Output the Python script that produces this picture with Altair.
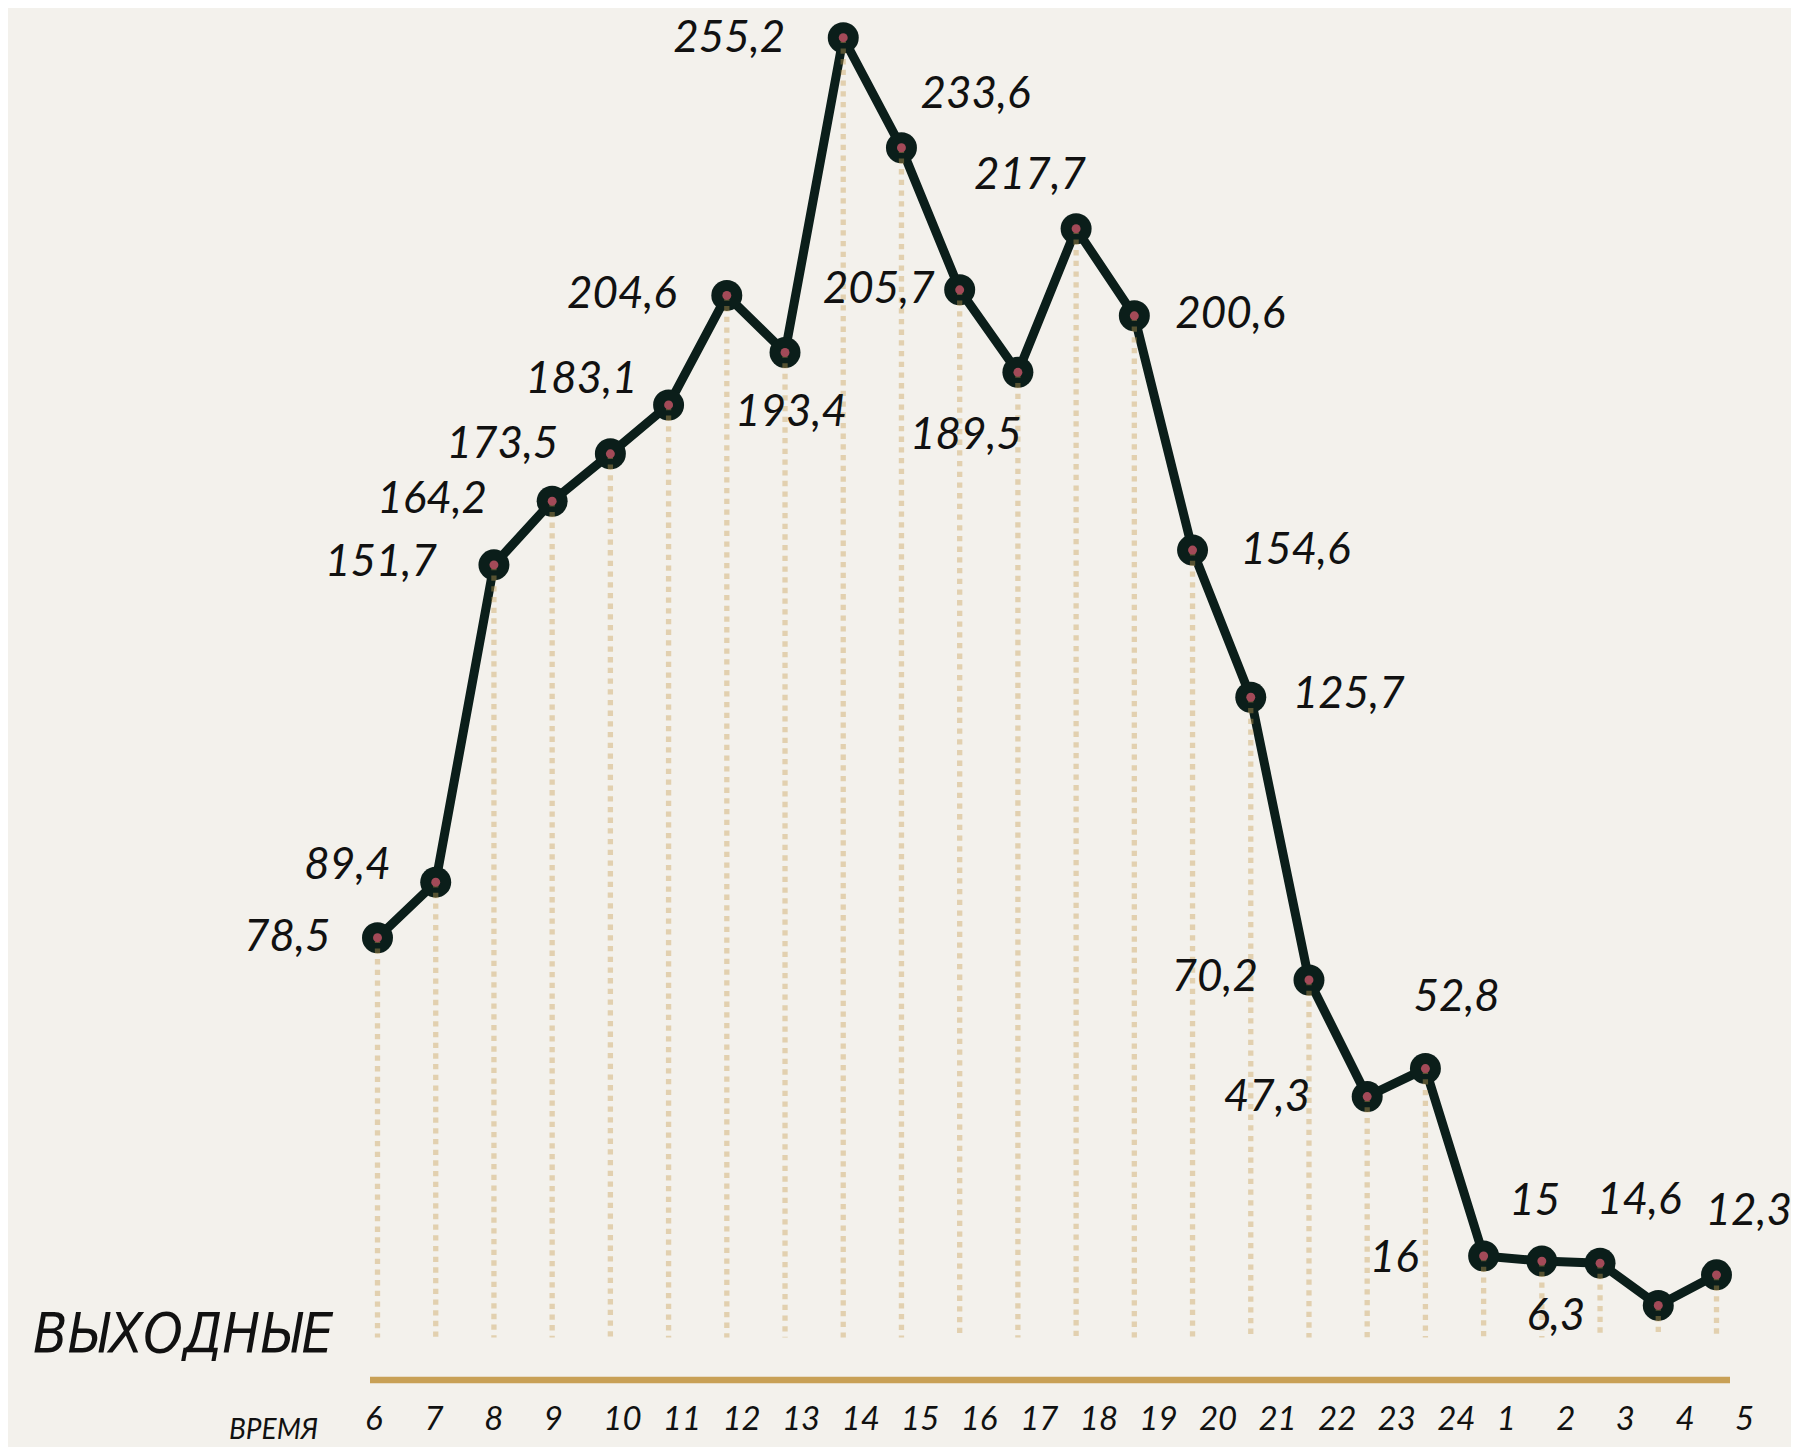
import altair as alt
import pandas as pd

# ---------------- data ----------------
HOURS = ["6", "7", "8", "9", "10", "11", "12", "13", "14", "15", "16", "17",
         "18", "19", "20", "21", "22", "23", "24", "1", "2", "3", "4", "5"]
VALUES = [78.5, 89.4, 151.7, 164.2, 173.5, 183.1, 204.6, 193.4, 255.2, 233.6,
          205.7, 189.5, 217.7, 200.6, 154.6, 125.7, 70.2, 47.3, 52.8, 16.0,
          15.0, 14.6, 6.3, 12.3]
LABELS = ["78,5", "89,4", "151,7", "164,2", "173,5", "183,1", "204,6", "193,4",
          "255,2", "233,6", "205,7", "189,5", "217,7", "200,6", "154,6", "125,7",
          "70,2", "47,3", "52,8", "16", "15", "14,6", "6,3", "12,3"]
TITLE = "ВЫХОДНЫЕ"
AXIS_TITLE = "ВРЕМЯ"

# ---------------- label placement (layout) ----------------
LABEL_ALIGN = ["right", "right", "right", "right", "right", "right", "right", "center",
               "right", "left", "right", "center", "center", "left", "left", "left",
               "right", "right", "left", "right", "center", "left", "right", "left"]
LABEL_DX = [-47, -45, -57, -65, -52, -31, -50, 6,
            -58, 19, -25, -52, -46, 41, 48, 42,
            -51, -57, -12, -65, -7, -3, -73, -11]
LABEL_DY = [0, -16, -2, -1, -9, -25, 0, 61,
            1, -53, 0, 64, -53, -1, 1, -2,
            -2, 1, -71, 3, -59, -62, 12, -63]

df = pd.DataFrame({
    "idx": list(range(len(HOURS))),
    "hour": HOURS,
    "value": VALUES,
    "label": LABELS,
    "align": LABEL_ALIGN,
    "dx": LABEL_DX,
    "dy": LABEL_DY,
})

BG = "#f3f1ec"
DARK = "#0b1e1a"
RED = "#a34a58"
GOLD = "#c8a056"
FONT = "Lato"
TITLE_FONT = "'DejaVu Sans Condensed', 'Liberation Sans Narrow', Roboto, sans-serif"

x_scale = alt.Scale(domain=[0, 23], range=[369.5, 1708.5], nice=False, zero=False)
y_scale = alt.Scale(domain=[0, 255.2], range=[1329.5, 29.7], nice=False, zero=False)

X = alt.X("idx:Q", scale=x_scale, axis=None)
Y = alt.Y("value:Q", scale=y_scale, axis=None)

base = alt.Chart(df)

line = base.mark_line(color=DARK, strokeWidth=9).encode(x=X, y=Y)
circles = base.mark_circle(color=DARK, opacity=1, size=960).encode(x=X, y=Y)
rules = base.mark_rule(color=GOLD, opacity=0.4, strokeWidth=5.3,
                       strokeDash=[5.3, 5.4]).encode(x=X, y=Y, y2=alt.datum(0))
dots = base.mark_circle(color=RED, opacity=1, size=80).encode(x=X, y=Y)
labels = base.mark_text(
    font=FONT, fontStyle="italic", fontSize=44, color="#111111", baseline="middle",
    align=alt.ExprRef(expr="datum.align"),
    dx=alt.ExprRef(expr="datum.dx"),
    dy=alt.ExprRef(expr="datum.dy"),
).encode(x=X, y=Y, text="label:N")

main = alt.layer(line, circles, rules, dots, labels)

ticks = base.mark_text(
    font=FONT, fontStyle="italic", fontSize=33, color="#111111",
    align="left", baseline="alphabetic",
).encode(
    x=alt.X("idx:Q", scale=alt.Scale(domain=[0, 23], range=[357, 1727], nice=False, zero=False), axis=None),
    y=alt.value(1422),
    text="hour:N",
)

gold_bar = alt.Chart(pd.DataFrame({"a": [0]})).mark_rule(
    color=GOLD, strokeWidth=6.7
).encode(x=alt.value(362), x2=alt.value(1722), y=alt.value(1372))

title = alt.Chart(pd.DataFrame({"t": [TITLE]})).mark_text(
    font=TITLE_FONT, fontStyle="italic", fontSize=56, color="#111111",
    align="left", baseline="alphabetic",
).encode(x=alt.value(25), y=alt.value(1344), text="t:N")

axis_title = alt.Chart(pd.DataFrame({"t": [AXIS_TITLE]})).mark_text(
    font=FONT, fontStyle="italic", fontSize=28, color="#111111",
    align="left", baseline="alphabetic",
).encode(x=alt.value(221), y=alt.value(1431), text="t:N")

chart = alt.layer(main, ticks, gold_bar, title, axis_title).resolve_scale(
    x="independent"
).properties(
    width=1783, height=1439,
    autosize=alt.AutoSizeParams(type="none"),
    padding=0,
).configure(background=BG).configure_view(stroke=None)

chart.save("out.html", embed_options={"renderer": "svg", "actions": False})
